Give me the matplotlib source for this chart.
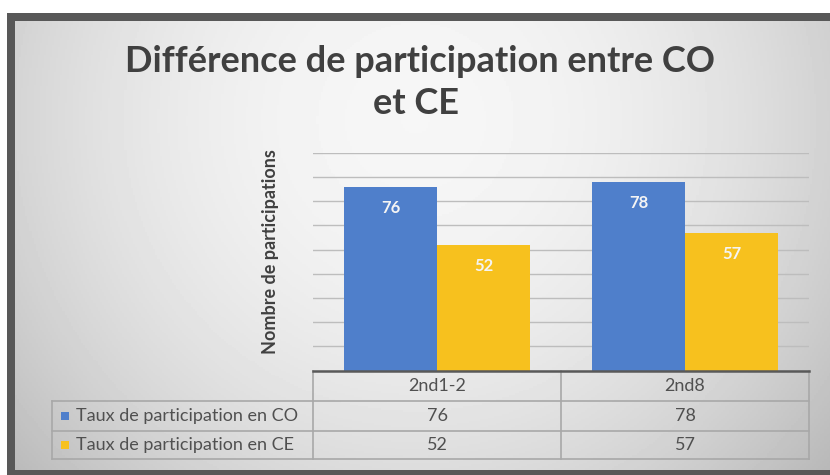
import numpy as np
import matplotlib.pyplot as plt
from matplotlib.patches import Rectangle

# -----------------------------
# Data
# -----------------------------
categories = ["2nd1-2", "2nd8"]
series_names = ["Taux de participation en CO", "Taux de participation en CE"]
co_values = [76, 78]
ce_values = [52, 57]
colors = ["#4F7FCB", "#F7C11E"]

title_line1 = "Différence de participation entre CO"
title_line2 = "et CE"
y_label = "Nombre de participations"

plt.rcParams['font.family'] = ['Lato', 'DejaVu Sans']

W, H = 830, 475
fig = plt.figure(figsize=(W / 100, H / 100), dpi=100, facecolor="white")

# -----------------------------
# Background (frame + gradient), drawn in pixel coords
# -----------------------------
bg = fig.add_axes([0, 0, 1, 1], zorder=0)

gx, gy = np.meshgrid(np.linspace(15, W + 10, 400), np.linspace(21, 470, 240))
r2 = ((gx - 415) / 440) ** 2 + ((gy - 120) / 440) ** 2
shade = np.clip(0.965 - 0.16 * r2, 0, 1)
bg.imshow(shade, cmap="gray", vmin=0, vmax=1, extent=(15, W + 10, 470, 21),
          aspect="auto", interpolation="nearest", zorder=0)

# dark frame: left, top and bottom only (the right edge is cut off)
frame_c = "#585858"
bg.add_patch(Rectangle((7, 13), 8, H, facecolor=frame_c, edgecolor="none", zorder=1))
bg.add_patch(Rectangle((7, 13), W, 8, facecolor=frame_c, edgecolor="none", zorder=1))
bg.add_patch(Rectangle((7, 470), W, 10, facecolor=frame_c, edgecolor="none", zorder=1))

# -----------------------------
# Title and axis label
# -----------------------------
title_kw = dict(ha="center", va="center", fontsize=26, fontweight="bold", color="#404040")
bg.text(420, 62, title_line1, **title_kw)
bg.text(416, 104, title_line2, **title_kw)
bg.text(270, 252, y_label, rotation=90, ha="center", va="center",
        fontsize=13, fontweight="bold", color="#404040")

# -----------------------------
# Bar chart
# -----------------------------
px_left, px_right, px_top, px_base = 313, 809, 153, 370.5
ax = fig.add_axes([px_left / W, 1 - px_base / H, (px_right - px_left) / W,
                   (px_base - px_top) / H], zorder=2)
ax.patch.set_alpha(0)

x = np.arange(len(categories))
width = 0.375
bars_co = ax.bar(x - width / 2, co_values, width, color=colors[0], zorder=3)
bars_ce = ax.bar(x + width / 2, ce_values, width, color=colors[1], zorder=3)

for bars in (bars_co, bars_ce):
    for b in bars:
        ax.annotate(str(int(b.get_height())), (b.get_x() + b.get_width() / 2, b.get_height()),
                    xytext=(0, -21), textcoords="offset pixels",
                    ha="center", va="center", fontsize=12, fontweight="bold",
                    color="#F4F4F4", zorder=4)

ax.set_xlim(-0.5, len(categories) - 0.5)
ax.set_ylim(0, 90)
ax.set_yticks(np.arange(0, 91, 10))
ax.yaxis.grid(True, color="#BDBDBD", linewidth=1)
ax.set_axisbelow(True)
ax.tick_params(left=False, bottom=False, labelleft=False, labelbottom=False)
for s in ["top", "right", "left"]:
    ax.spines[s].set_visible(False)
ax.spines["bottom"].set_color("#595959")
ax.spines["bottom"].set_linewidth(1.8)
ax.spines["bottom"].set_zorder(5)

# -----------------------------
# Data table under the chart
# -----------------------------
line_kw = dict(color="#A8A8A8", linewidth=1.2, zorder=2)
rows_y = [371, 401, 431, 459]
col_w = (px_right - px_left) / len(categories)
cols_x = [px_left + i * col_w for i in range(len(categories) + 1)]
leg_left = 52

for yy in rows_y[1:]:
    bg.plot([leg_left, px_right], [yy, yy], **line_kw)
for xx in cols_x:
    bg.plot([xx, xx], [rows_y[0], rows_y[-1]], **line_kw)
bg.plot([leg_left, leg_left], [rows_y[1], rows_y[-1]], **line_kw)

txt_kw = dict(ha="center", va="center", fontsize=13, color="#505050")
for i, cat in enumerate(categories):
    bg.text(px_left + (i + 0.5) * col_w, (rows_y[0] + rows_y[1]) / 2, cat, **txt_kw)

for r, (name, vals, c) in enumerate(zip(series_names, [co_values, ce_values], colors)):
    yc = (rows_y[r + 1] + rows_y[r + 2]) / 2
    bg.add_patch(Rectangle((61, yc - 4), 8, 8, facecolor=c, edgecolor="none", zorder=2))
    bg.text(76, yc, name, ha="left", va="center", fontsize=13, color="#505050")
    for i, v in enumerate(vals):
        bg.text(px_left + (i + 0.5) * col_w, yc, str(v), **txt_kw)

bg.set_xlim(0, W)
bg.set_ylim(H, 0)
bg.axis("off")

fig.savefig("out.png", dpi=100)
